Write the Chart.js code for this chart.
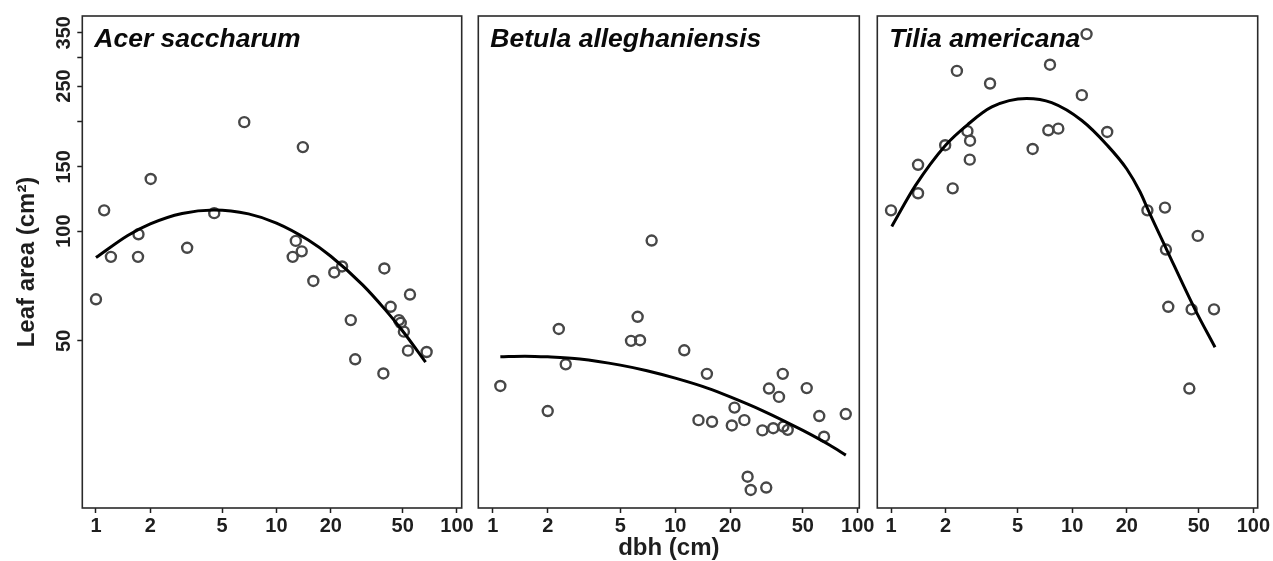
<!DOCTYPE html>
<html>
<head>
<meta charset="utf-8">
<script src="https://cdn.jsdelivr.net/npm/chart.js@4.4.0/dist/chart.umd.min.js"></script>
<style>
  html, body { margin: 0; padding: 0; background: #fff; }
  #wrap { position: relative; width: 1273px; height: 561px; }
  #wrap canvas { position: absolute; left: 0; top: 0; }
</style>
</head>
<body>
<div id="wrap">
  <canvas id="acer" width="1273" height="561"></canvas>
  <canvas id="betula" width="1273" height="561"></canvas>
  <canvas id="tilia" width="1273" height="561"></canvas>
</div>
<script>
// Ejes compartidos
const xTicks = [1, 2, 5, 10, 20, 50, 100];
const xTickLabels = ['1', '2', '5', '10', '20', '50', '100'];
const yTicks = [50, 100, 150, 200, 250, 300, 350];
const yTickLabels = ['50', '100', '150', '', '250', '', '350'];
const panelNames = ['Acer saccharum', 'Betula alleghaniensis', 'Tilia americana'];

// Acer saccharum
const acerDbh = [1.11, 2.01, 6.63, 14.0, 4.52, 1.72, 1.21, 1.71, 3.2, 12.8, 13.8, 12.3, 23.1, 39.6,
  1.0, 16.0, 20.9, 54.9, 42.9, 47.7, 48.8, 50.8, 25.8, 53.5, 67.9, 27.3, 39.1];
const acerArea = [114, 139, 199, 170, 112, 98, 85, 85, 90, 94, 88, 85, 80, 79,
  65, 73, 77, 67, 62, 57, 56, 53, 57, 47, 46.6, 44.5, 40.7];
const acerFitDbh = [1, 1.5, 2, 3, 4.5, 7, 10, 15, 20, 30, 40, 50, 67];
const acerFitArea = [84.6, 97.3, 104.7, 111.8, 114.3, 111.5, 105.2, 94.5, 85.3, 71.2, 60.9, 53.2, 43.7];

// Betula alleghaniensis
const betulaDbh = [1.1, 2.0, 2.3, 2.51, 6.22, 5.72, 6.41, 7.42, 11.2, 14.9, 13.4, 15.9, 21.1, 20.4, 23.9,
  30.0, 32.6, 37.0, 38.8, 34.4, 39.1, 41.3, 52.5, 61.5, 65.3, 85.9, 24.9, 25.9, 31.5];
const betulaArea = [37.6, 32.1, 53.9, 43.1, 58.2, 50.0, 50.2, 94.2, 47.1, 40.6, 30.3, 30.0, 32.8, 29.3, 30.3,
  28.4, 37.0, 35.1, 40.6, 28.8, 29.1, 28.5, 37.1, 31.1, 27.3, 31.5, 21.2, 19.5, 19.8];
const betulaFitDbh = [1.1, 1.5, 2, 3, 5, 7, 10, 15, 20, 30, 50, 70, 86];
const betulaFitArea = [45.2, 45.4, 45.2, 44.6, 42.9, 41.4, 39.5, 37.1, 35.1, 32.2, 28.4, 25.9, 24.3];

// Tilia americana
const tiliaDbh = [12.0, 2.31, 7.54, 3.52, 11.3, 2.64, 2.73, 1.99, 7.38, 8.38, 15.6, 6.05, 2.72, 1.41, 1.41,
  2.19, 1.0, 26.0, 32.5, 49.3, 32.9, 33.9, 45.6, 60.6, 44.3];
const tiliaArea = [347, 275, 286, 254, 236, 188, 177, 172, 189, 191, 187, 168, 157, 152, 127,
  131, 114, 114, 116, 97, 89, 62, 61, 61, 37];
const tiliaFitDbh = [1.01, 1.36, 2.0, 2.65, 3.6, 5.6, 7.7, 11.3, 15.6, 20, 23.7, 26.3, 33.2, 47.6, 61.4];
const tiliaFitArea = [103, 133, 172, 196, 219, 231, 225, 201, 172, 148, 128, 114, 89, 61, 48];

const FONT = "'Liberation Sans', Arial, Helvetica, sans-serif";
const INK = '#1e1e1e';

// marco del panel y nombre de la especie
const panelFrame = {
  id: 'panelFrame',
  afterDatasetsDraw(chart, args, opts) {
    const { ctx, chartArea: a } = chart;
    ctx.save();
    ctx.strokeStyle = '#2a2a2a';
    ctx.lineWidth = 1.6;
    ctx.strokeRect(a.left, a.top, a.right - a.left, a.bottom - a.top);
    ctx.font = `italic bold 26.5px ${FONT}`;
    ctx.fillStyle = '#0a0a0a';
    ctx.textBaseline = 'alphabetic';
    ctx.fillText(opts.name, a.left + 12, a.top + 31);
    ctx.restore();
  }
};

function makePanel(id, name, dbh, area, fitDbh, fitArea, xMin, xMax, pad, showY, showXTitle) {
  const tickGrid = { drawOnChartArea: false, tickLength: 5, tickColor: INK, tickWidth: 1.5 };
  return new Chart(document.getElementById(id), {
    type: 'scatter',
    data: {
      datasets: [
        {
          data: fitDbh.map((x, i) => ({ x, y: fitArea[i] })),
          showLine: true,
          pointRadius: 0,
          borderColor: '#000',
          borderWidth: 3,
          cubicInterpolationMode: 'monotone'
        },
        {
          data: dbh.map((x, i) => ({ x, y: area[i] })),
          pointRadius: 5,
          pointBorderWidth: 2.4,
          pointBorderColor: '#474747',
          pointBackgroundColor: 'rgba(0,0,0,0)'
        }
      ]
    },
    options: {
      responsive: false,
      animation: false,
      events: [],
      layout: { padding: pad },
      plugins: {
        legend: { display: false },
        tooltip: { enabled: false },
        panelFrame: { name }
      },
      scales: {
        x: {
          type: 'logarithmic',
          min: xMin,
          max: xMax,
          afterBuildTicks: s => { s.ticks = xTicks.map(v => ({ value: v })); },
          afterFit: s => { s.height = 53; },
          ticks: {
            autoSkip: false,
            maxRotation: 0,
            padding: 1,
            color: INK,
            font: { family: FONT, size: 20, weight: 'bold' },
            callback: (v, i) => xTickLabels[i]
          },
          grid: tickGrid,
          border: { display: false },
          title: {
            display: showXTitle,
            text: 'dbh (cm)',
            color: INK,
            font: { family: FONT, size: 24, weight: 'bold', lineHeight: 1 },
            padding: { top: 0, bottom: 1 }
          }
        },
        y: {
          type: 'logarithmic',
          display: showY,
          min: 17.4,
          max: 389,
          afterBuildTicks: s => { s.ticks = yTicks.map(v => ({ value: v })); },
          afterFit: s => { if (showY) s.width = 82.3; },
          ticks: {
            autoSkip: false,
            minRotation: 90,
            maxRotation: 90,
            crossAlign: 'center',
            padding: -3.6,
            color: INK,
            font: { family: FONT, size: 20, weight: 'bold' },
            callback: (v, i) => yTickLabels[i]
          },
          grid: tickGrid,
          border: { display: false },
          title: {
            display: true,
            text: 'Leaf area (cm²)',
            color: INK,
            font: { family: FONT, size: 24, weight: 'bold', lineHeight: 1 },
            padding: { top: 15, bottom: 0 }
          }
        }
      }
    },
    plugins: [panelFrame]
  });
}

makePanel('acer', panelNames[0], acerDbh, acerArea, acerFitDbh, acerFitArea,
  0.84, 106.2, { left: 0, top: 16, right: 811.3, bottom: 0 }, true, false);
makePanel('betula', panelNames[1], betulaDbh, betulaArea, betulaFitDbh, betulaFitArea,
  0.833, 101.9, { left: 478.3, top: 16, right: 413.7, bottom: 0 }, false, true);
makePanel('tilia', panelNames[2], tiliaDbh, tiliaArea, tiliaFitDbh, tiliaFitArea,
  0.84, 105.6, { left: 877.3, top: 16, right: 15.3, bottom: 0 }, false, false);
</script>
</body>
</html>
